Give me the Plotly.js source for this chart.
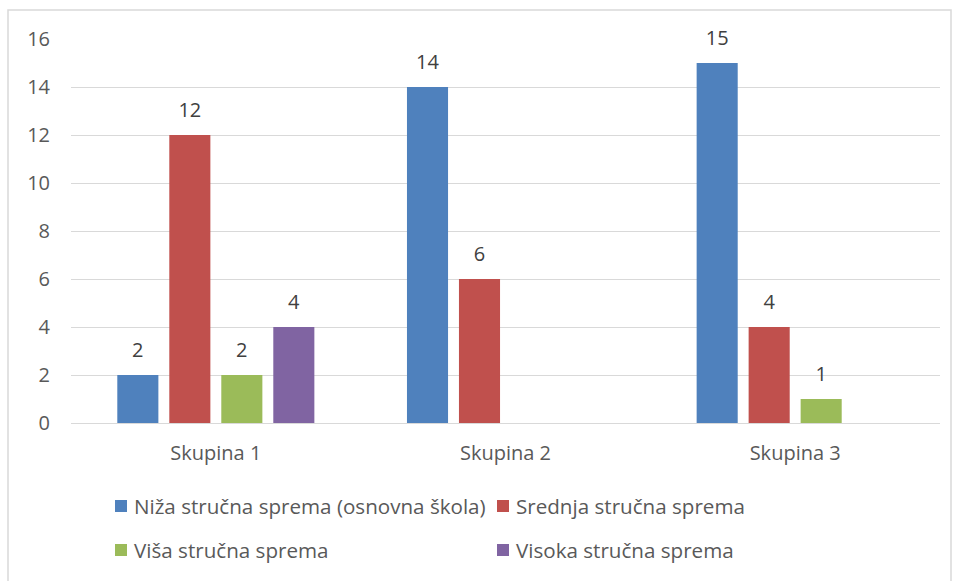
<!DOCTYPE html>
<html>
<head>
<meta charset="utf-8">
<script src="https://cdn.plot.ly/plotly-3.0.1.min.js"></script>
<style>
html,body{margin:0;padding:0;background:#fff;}
#chart{width:953px;height:581px;}
</style>
</head>
<body>
<div id="chart"></div>
<script>
var categories = ["Skupina 1", "Skupina 2", "Skupina 3"];
var seriesNames = ["Niža stručna sprema (osnovna škola)", "Srednja stručna sprema", "Viša stručna sprema", "Visoka stručna sprema"];
var nizaValues = [2, 14, 15];
var srednjaValues = [12, 6, 4];
var visaValues = [2, null, 1];
var visokaValues = [4, null, null];
var yTicks = [0, 2, 4, 6, 8, 10, 12, 14, 16];

var colors = ["#4F81BD", "#C0504D", "#9BBB59", "#8064A2"];
var allValues = [nizaValues, srednjaValues, visaValues, visokaValues];
var FONT = "'Open Sans', Lato, 'Liberation Sans', sans-serif";

// plot area in pixels (used to place legend items in paper coordinates)
var W = 953, H = 581, ML = 71, MR = 13, MT = 39, MB = 158;
var PW = W - ML - MR, PH = H - MT - MB;
function px(x){ return (x - ML) / PW; }
function py(y){ return (H - MB - y) / PH; }

var traces = [];
allValues.forEach(function(vals, i){
  traces.push({
    type: "bar",
    name: seriesNames[i],
    x: categories,
    y: vals,
    marker: {color: colors[i]},
    offsetgroup: "g" + i,
    showlegend: false,
    hoverinfo: "skip"
  });
});
allValues.forEach(function(vals, i){
  traces.push({
    type: "scatter",
    mode: "markers+text",
    x: categories,
    y: vals,
    text: vals.map(function(v){ return v === null ? "" : String(v); }),
    textposition: "top center",
    textfont: {family: FONT, size: 20, color: "#404040"},
    marker: {size: 20, opacity: 0, color: colors[i]},
    offsetgroup: "g" + i,
    showlegend: false,
    hoverinfo: "skip",
    cliponaxis: false
  });
});

// custom legend (2 columns x 2 rows), like the original
var legendPos = [
  {mx: 115, cy: 506}, {mx: 497, cy: 506},
  {mx: 115, cy: 550}, {mx: 497, cy: 550}
];
var shapes = [{
  type: "rect", xref: "paper", yref: "paper",
  x0: px(8), x1: px(951), y0: py(640), y1: py(10),
  line: {color: "#d9d9d9", width: 1.5},
  fillcolor: "rgba(0,0,0,0)",
  layer: "below"
}];
var annotations = [];
seriesNames.forEach(function(name, i){
  var p = legendPos[i];
  shapes.push({
    type: "rect", xref: "paper", yref: "paper",
    x0: px(p.mx), x1: px(p.mx + 12), y0: py(p.cy + 6), y1: py(p.cy - 6),
    line: {width: 0}, fillcolor: colors[i]
  });
  annotations.push({
    xref: "paper", yref: "paper",
    x: px(p.mx + 17), y: py(p.cy),
    xanchor: "left", yanchor: "middle",
    text: name, showarrow: false,
    font: {family: FONT, size: 20.6, color: "#595959"}
  });
});

var layout = {
  width: W,
  height: H,
  margin: {l: ML, r: MR, t: MT, b: MB},
  paper_bgcolor: "#ffffff",
  plot_bgcolor: "#ffffff",
  barmode: "group",
  scattermode: "group",
  bargap: 0.282,
  scattergap: 0.282,
  bargroupgap: 0.21,
  font: {family: FONT, color: "#595959"},
  xaxis: {
    type: "category",
    showline: true,
    linecolor: "#d9d9d9",
    linewidth: 1,
    ticks: "",
    showgrid: false,
    tickfont: {family: FONT, size: 20, color: "#595959"},
    ticklabelstandoff: 12
  },
  yaxis: {
    range: [0, 16],
    tickvals: yTicks,
    showgrid: true,
    gridcolor: "#d9d9d9",
    gridwidth: 1,
    zeroline: false,
    showline: false,
    ticks: "",
    tickfont: {family: FONT, size: 20, color: "#595959"},
    ticklabelstandoff: 20
  },
  shapes: shapes,
  annotations: annotations,
  showlegend: false
};

Plotly.newPlot("chart", traces, layout, {displayModeBar: false, staticPlot: true});
</script>
</body>
</html>
